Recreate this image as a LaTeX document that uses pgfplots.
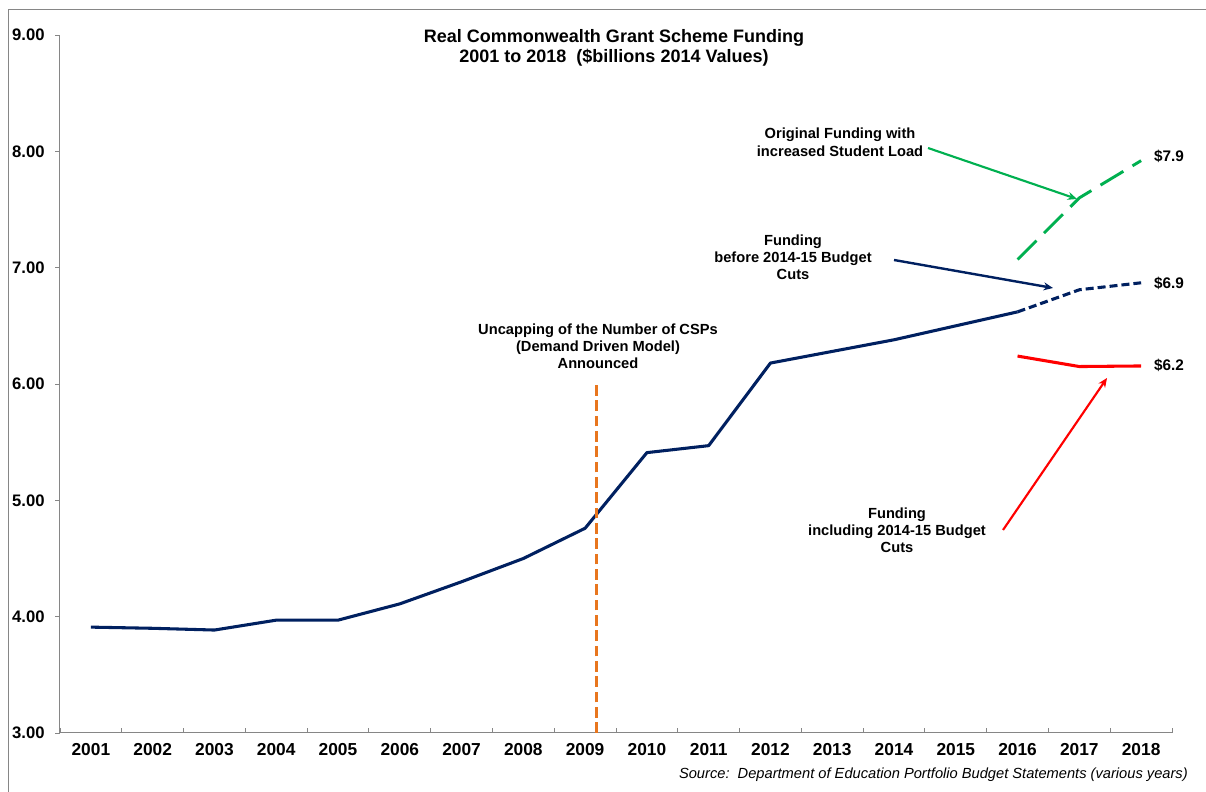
\documentclass[border=0pt]{standalone}
\usepackage{fontspec}
\setmainfont{Liberation Sans}
\usepackage{pgfplots}
\pgfplotsset{compat=1.18}
\usetikzlibrary{arrows.meta}
\definecolor{navy}{RGB}{0,32,96}
\definecolor{exgreen}{RGB}{0,176,80}
\definecolor{exorange}{RGB}{232,118,30}
\definecolor{exred}{RGB}{255,0,0}
\definecolor{axgray}{RGB}{134,134,134}
\begin{document}
\begin{tikzpicture}
\begin{scope}[x=0.75pt,y=0.75pt]
\path[use as bounding box] (0,0) rectangle (1206,792);
\draw[axgray, line width=0.75pt] (8,0) -- (8,782) -- (1206,782);
\end{scope}
\begin{axis}[
  at={(45pt,44.25pt)}, anchor=south west,
  scale only axis, width=834pt, height=523.5pt,
  xmin=0.5, xmax=18.5, ymin=3, ymax=9,
  axis lines=left,
  axis line style={axgray, line width=0.75pt, -},
  clip=false,
  xtick={0.5,1.5,...,18.5},
  xticklabels={2001,2002,2003,2004,2005,2006,2007,2008,2009,2010,2011,2012,2013,2014,2015,2016,2017,2018},
  x tick label as interval,
  ytick={3,4,5,6,7,8,9},
  yticklabels={3.00,4.00,5.00,6.00,7.00,8.00,9.00},
  tick align=outside,
  major tick length=3.5pt,
  tick style={axgray, line width=0.6pt},
  major x tick style={yshift=3.5pt},
  x tick label style={font=\fontsize{13}{15}\selectfont\bfseries, yshift=-1pt},
  y tick label style={font=\fontsize{12.5}{15}\selectfont\bfseries, xshift=-4.5pt},
]
\addplot[navy, line width=2.3pt, line join=round] coordinates {
(1,3.91) (2,3.90) (3,3.885) (4,3.97) (5,3.97) (6,4.11) (7,4.30) (8,4.50)
(9,4.76) (10,5.41) (11,5.47) (12,6.18) (13,6.28) (14,6.38) (15,6.50) (16,6.62)};
\addplot[navy, line width=2.3pt, dash pattern=on 6pt off 3pt] coordinates {
(16,6.62) (17,6.81) (18,6.87)};
\addplot[exgreen, line width=2.2pt, dash pattern=on 20pt off 8pt] coordinates {
(16,7.07) (17,7.60) (18,7.92)};
\addplot[exred, line width=2.3pt] coordinates {
(16,6.24) (17,6.15) (18,6.155)};
\addplot[exorange, line width=2.6pt, dash pattern=on 8pt off 3.5pt] coordinates {
(9.18,3.0) (9.18,6.03)};
\end{axis}
\begin{scope}[x=0.75pt,y=0.75pt]
\node[font=\fontsize{13.5}{15}\selectfont\bfseries, align=center] at (614,744)
  {Real Commonwealth Grant Scheme Funding\\2001 to 2018~~(\$billions 2014 Values)};
\node[font=\fontsize{11}{12.75}\selectfont\bfseries, align=center] at (598,446)
  {Uncapping of the Number of CSPs\\(Demand Driven Model)\\Announced};
\node[font=\fontsize{11}{13.5}\selectfont\bfseries, align=center] at (840,650)
  {Original Funding with\\increased Student Load};
\node[font=\fontsize{11}{12.75}\selectfont\bfseries, align=center] at (793,535)
  {Funding\\before 2014-15 Budget\\Cuts};
\node[font=\fontsize{11}{12.75}\selectfont\bfseries, align=center] at (897,262)
  {Funding\\including 2014-15 Budget\\Cuts};
\node[font=\fontsize{11.5}{14}\selectfont\bfseries] at (1169,636) {\$7.9};
\node[font=\fontsize{11.5}{14}\selectfont\bfseries] at (1169,509) {\$6.9};
\node[font=\fontsize{11.5}{14}\selectfont\bfseries] at (1169,427) {\$6.2};
\node[font=\fontsize{11}{12}\selectfont\itshape, anchor=east, inner sep=0pt] at (1188,17)
  {Source:~~Department of Education Portfolio Budget Statements (various years)};
\draw[exgreen, line width=1.6pt, -{Stealth[length=7pt,width=6pt]}] (928,644) -- (1077,593);
\draw[navy, line width=1.8pt, -{Stealth[length=7pt,width=6pt]}] (894,532) -- (1053,504);
\draw[exred, line width=1.6pt, -{Stealth[length=7pt,width=6pt]}] (1003,262) -- (1107,414);
\end{scope}
\end{tikzpicture}
\end{document}
